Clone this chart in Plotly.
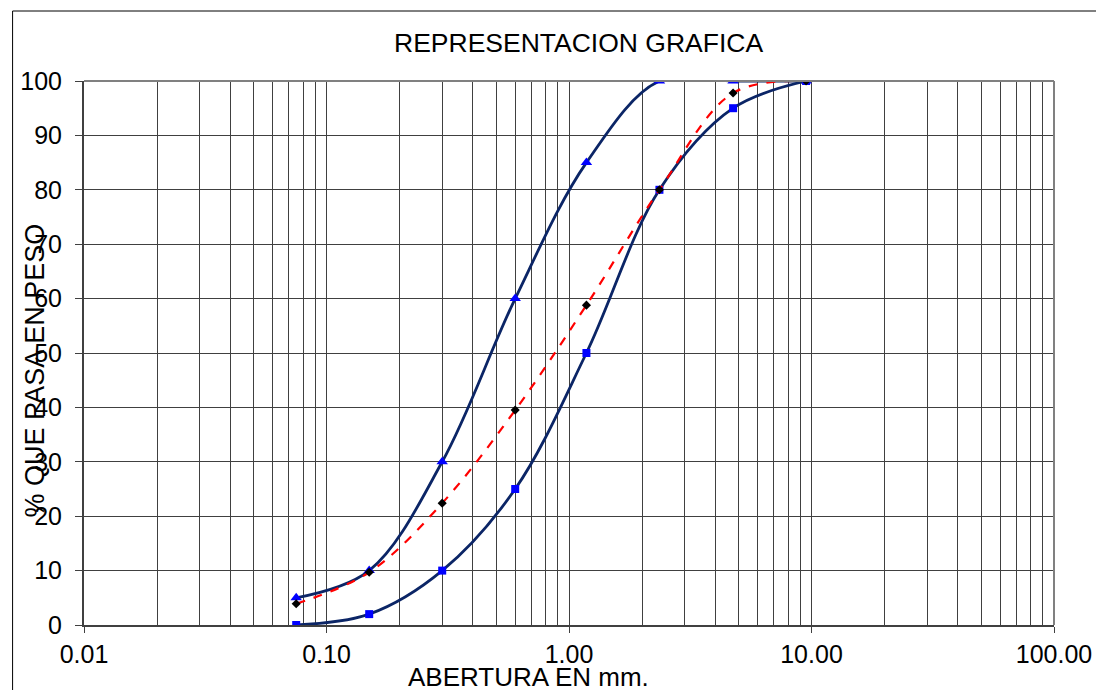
import plotly.graph_objects as go

# Sieve openings (mm)
aberturas = [0.075, 0.15, 0.30, 0.60, 1.18, 2.36, 4.75, 9.50]
# Upper limit (triangles)
limite_superior = [5, 10, 30, 60, 85, 100, 100, 100]
# Lower limit (squares)
limite_inferior = [0, 2, 10, 25, 50, 80, 95, 100]
# Sample (diamonds, red dashed)
muestra = [3.9, 9.7, 22.4, 39.5, 58.8, 80.0, 97.8, 100.0]

x_tickvals = [0.01, 0.1, 1, 10, 100]
x_ticktext = ["0.01", "0.10", "1.00", "10.00", "100.00"]
y_tickvals = [0, 10, 20, 30, 40, 50, 60, 70, 80, 90, 100]

minor_vals = [m * d for d in [0.01, 0.1, 1, 10] for m in range(2, 10)]

NAVY = "#0B2566"
FONT = "Liberation Sans, Arial, sans-serif"

fig = go.Figure()

fig.add_trace(go.Scatter(
    x=aberturas, y=limite_superior, mode="lines+markers",
    line=dict(color=NAVY, width=2.8, shape="spline", smoothing=1.0),
    marker=dict(symbol="triangle-up", color="#0000FF", size=10),
    showlegend=False))
fig.add_trace(go.Scatter(
    x=aberturas, y=limite_inferior, mode="lines+markers",
    line=dict(color=NAVY, width=2.8, shape="spline", smoothing=1.0),
    marker=dict(symbol="square", color="#0000FF", size=8),
    showlegend=False))
fig.add_trace(go.Scatter(
    x=aberturas, y=muestra, mode="lines+markers",
    line=dict(color="#FF0000", width=2.2, dash="dash", shape="spline", smoothing=1.0),
    marker=dict(symbol="diamond", color="#000000", size=7),
    showlegend=False))

fig.update_xaxes(
    type="log", range=[-2, 2],
    tickmode="array", tickvals=x_tickvals, ticktext=x_ticktext,
    ticks="outside", ticklen=6, tickcolor="#404040",
    showgrid=True, gridcolor="#404040", gridwidth=1,
    minor=dict(tickmode="array", tickvals=minor_vals, showgrid=True,
               gridcolor="#404040", gridwidth=1, ticks=""),
    showline=True, linecolor="#404040", linewidth=2, mirror=False,
    zeroline=False,
    tickfont=dict(family=FONT, size=25, color="#000000"),
)
fig.update_yaxes(
    range=[0, 100], tickmode="array", tickvals=y_tickvals,
    ticks="outside", ticklen=7, tickcolor="#404040",
    showgrid=True, gridcolor="#404040", gridwidth=1,
    showline=True, linecolor="#404040", linewidth=2,
    zeroline=False, ticklabelstandoff=8,
    tickfont=dict(family=FONT, size=25, color="#000000"),
)

# plot area right & top border (gray)
fig.add_shape(type="line", xref="paper", yref="paper", x0=1, x1=1, y0=0, y1=1,
              line=dict(color="#808080", width=2))
fig.add_shape(type="line", xref="paper", yref="paper", x0=0, x1=1, y0=1, y1=1,
              line=dict(color="#808080", width=2))

# outer chart frame
fig.add_shape(type="rect", xref="paper", yref="paper",
              x0=(9 - 81) / 978, x1=(1120 - 81) / 978,
              y0=-0.2, y1=(625 - 11) / 544,
              line=dict(color="#000000", width=1))

fig.add_annotation(text="REPRESENTACION GRAFICA", xref="paper", yref="paper",
                   x=(580 - 81) / 978, y=(625 - 43) / 544, showarrow=False,
                   xanchor="center", yanchor="middle",
                   font=dict(family=FONT, size=26.5, color="#000000"))
fig.add_annotation(text="ABERTURA EN mm.", xref="paper", yref="paper",
                   x=(529 - 81) / 978, y=(625 - 677) / 544, showarrow=False,
                   xanchor="center", yanchor="middle",
                   font=dict(family=FONT, size=26, color="#000000"))
fig.add_annotation(text="% QUE PASA EN PESO", xref="paper", yref="paper",
                   x=(32 - 81) / 978, y=(625 - 370) / 544, showarrow=False,
                   textangle=-90, xanchor="center", yanchor="middle",
                   font=dict(family=FONT, size=27, color="#000000"))

fig.update_layout(
    width=1096, height=682,
    margin=dict(l=73, r=41, t=73, b=65),
    paper_bgcolor="#FFFFFF", plot_bgcolor="#FFFFFF",
)

fig.write_html("out.html")
